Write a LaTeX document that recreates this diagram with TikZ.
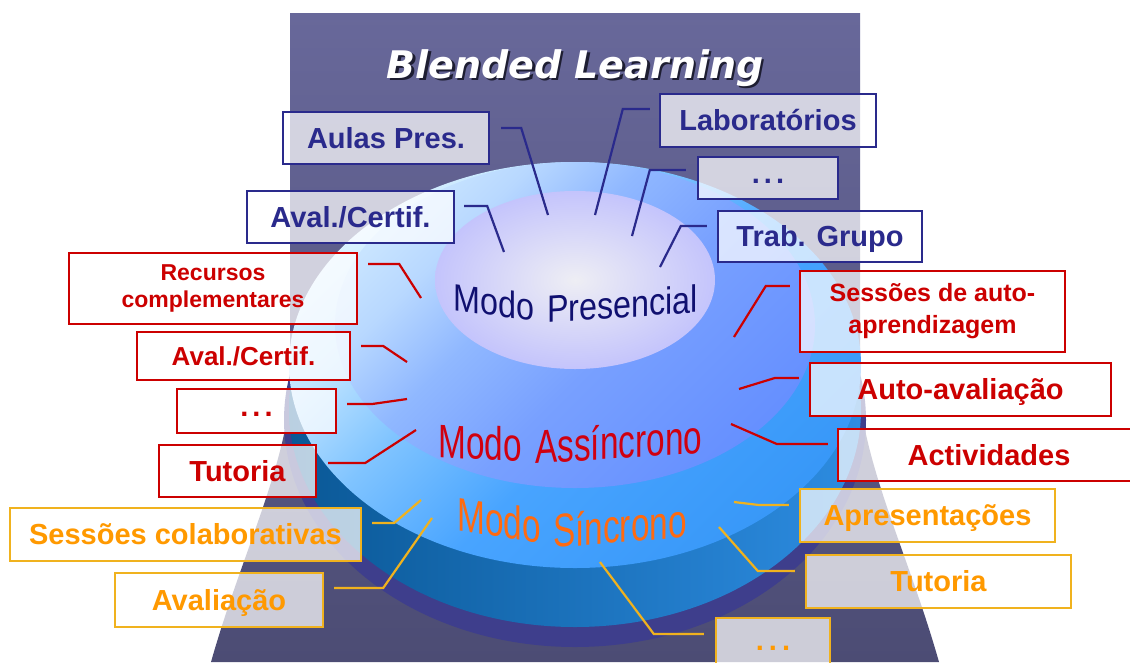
\documentclass[tikz,border=0pt]{standalone}
\usepackage{graphicx}
\usepackage{fontspec}
\setmainfont{Liberation Sans}
\newfontfamily\titlefont{DejaVu Sans}
\usetikzlibrary{calc}
\newcommand\hsq[2]{\scalebox{#1}[1]{#2}}
\definecolor{navyc}{RGB}{42,42,140}
\definecolor{redc}{RGB}{204,0,0}
\definecolor{orline}{RGB}{240,178,30}
\definecolor{ortext}{RGB}{255,153,0}
\definecolor{bgtop}{RGB}{104,104,154}
\definecolor{bgbot}{RGB}{76,76,116}
\definecolor{rimc}{RGB}{62,62,140}
\definecolor{sideL}{RGB}{10,88,150}
\definecolor{sideR}{RGB}{45,140,225}
\definecolor{sinC}{RGB}{56,152,248}
\definecolor{sinB}{RGB}{72,164,255}
\definecolor{sinM}{RGB}{128,196,255}
\definecolor{sinA}{RGB}{192,228,255}
\definecolor{sinZ}{RGB}{216,240,255}
\definecolor{asC}{RGB}{102,144,255}
\definecolor{asB}{RGB}{120,160,255}
\definecolor{asM}{RGB}{144,184,255}
\definecolor{asA}{RGB}{184,216,255}
\definecolor{asZ}{RGB}{200,228,255}
\definecolor{prIn}{RGB}{238,238,244}
\definecolor{prOut}{RGB}{196,196,252}
\definecolor{presc}{RGB}{16,16,112}
\definecolor{assc}{RGB}{208,0,16}
\definecolor{sinc}{RGB}{255,106,16}
\definecolor{shadowc}{RGB}{30,30,50}
\pgfdeclareverticalshading{sinshade}{100bp}{color(0bp)=(sinC); color(25bp)=(sinC); color(45bp)=(sinB); color(58bp)=(sinM); color(68bp)=(sinA); color(75bp)=(sinZ); color(100bp)=(sinZ)}
\pgfdeclareverticalshading{asshade}{100bp}{color(0bp)=(asC); color(25bp)=(asC); color(45bp)=(asB); color(58bp)=(asM); color(68bp)=(asA); color(75bp)=(asZ); color(100bp)=(asZ)}
\begin{document}
\begin{tikzpicture}[x=1pt,y=-1pt,
  box/.style={draw, line width=2.4pt, fill=white, fill opacity=0.72, text opacity=1, inner sep=0pt, align=center},
  bluebox/.style={box, draw=navyc, text=navyc, font=\bfseries\fontsize{29}{33}\selectfont, text height=20.8pt, text depth=0pt},
  redbox/.style={box, draw=redc, text=redc, font=\bfseries\fontsize{29}{33}\selectfont, text height=20.8pt, text depth=0pt},
  redsmall/.style={box, draw=redc, text=redc},
  orbox/.style={box, draw=orline, text=ortext, font=\bfseries\fontsize{29}{33}\selectfont, text height=20.8pt, text depth=0pt},
  dotsbox/.style={text height=11pt, text depth=0pt},
  modeA/.style={anchor=base west, inner sep=0pt, text=presc, font=\fontsize{38}{40}\selectfont},
  modeB/.style={anchor=base west, inner sep=0pt, font=\fontsize{47}{50}\selectfont},
  bl/.style={navyc, line width=2.2pt},
  rl/.style={redc, line width=2.2pt},
  ol/.style={orline, line width=2.2pt}]
\useasboundingbox (0,0) rectangle (1130,662);
\clip (0,0) rectangle (1130,662);
\fill[white] (0,0) rectangle (1130,662);
% dark background
\shade[top color=bgtop, bottom color=bgbot]
  (290,13) -- (860,13) -- (860,400) .. controls (870,480) and (910,560) .. (939,662)
  -- (211,662) .. controls (240,560) and (280,480) .. (290,400) -- cycle;
% disk layers
\fill[rimc] (575,420) ellipse [x radius=291pt, y radius=227pt];
\shade[left color=sideL, right color=sideR] (575,410) ellipse [x radius=286pt, y radius=217pt];
\shade[shading=sinshade, shading angle=45] (575,365) ellipse [x radius=286pt, y radius=203pt];
\shade[shading=asshade, shading angle=45] (575,325) ellipse [x radius=240pt, y radius=163pt];
\shade[inner color=prIn, outer color=prOut] (575,280) ellipse [x radius=140pt, y radius=89pt];
% mode labels
\node[modeA, yslant=-0.14] (mp1) at (453,310) {\hsq{0.85}{Modo}};
\node[modeA, yslant=0.07] (mp2) at (547,323) {\hsq{0.85}{Presencial}};
\node[modeB, text=assc, yslant=-0.06] (ma1) at (438,457) {\hsq{0.71}{Modo}};
\node[modeB, text=assc, yslant=0.065] (ma2) at (535,464) {\hsq{0.71}{Assíncrono}};
\node[modeB, text=sinc, yslant=-0.16] (ms1) at (457,530) {\hsq{0.71}{Modo}};
\node[modeB, text=sinc, yslant=0.08] (ms2) at (553,548) {\hsq{0.71}{Síncrono}};
% title with drop shadow
\node[anchor=base, text=white, font=\titlefont\bfseries\itshape\fontsize{38}{40}\selectfont] (title) at (575,78)
  {\makebox[0pt][l]{\hspace{2.5pt}\raisebox{-2.5pt}{\color{shadowc}Blended Learning}}Blended Learning};
% blue boxes
\node[bluebox, minimum width=206pt, minimum height=52pt] (aulas) at (386,138) {Aulas Pres.};
\node[bluebox, minimum width=216pt, minimum height=53pt] (labo) at (768,120.5) {Laboratórios};
\node[bluebox, dotsbox, minimum width=140pt, minimum height=42pt] (bdots) at (768,178) {.\hspace{4pt}.\hspace{4pt}.};
\node[bluebox, minimum width=207pt, minimum height=52pt] (baval) at (350.5,217) {Aval./Certif.};
\node[bluebox, minimum width=204pt, minimum height=51pt] (trab) at (820,236.5) {Trab. Grupo};
% red boxes
\node[redsmall, font=\bfseries\fontsize{23}{27}\selectfont, minimum width=288pt, minimum height=71pt] (recursos) at (213,288.5) {Recursos\\complementares};
\node[redbox, font=\bfseries\fontsize{26}{30}\selectfont, text height=18.6pt, minimum width=213pt, minimum height=48pt] (raval) at (243.5,356) {Aval./Certif.};
\node[redbox, dotsbox, minimum width=159pt, minimum height=44pt] (rdots) at (256.5,411) {.\hspace{4pt}.\hspace{4pt}.};
\node[redbox, minimum width=157pt, minimum height=52pt] (rtut) at (237.5,471) {Tutoria};
\node[redsmall, font=\bfseries\fontsize{25}{32}\selectfont, minimum width=265pt, minimum height=81pt] (sessauto) at (932.5,311.5) {Sessões de auto-\\aprendizagem};
\node[redbox, minimum width=301pt, minimum height=53pt] (autoav) at (960.5,389.5) {Auto-avaliação};
\node[redbox, minimum width=302pt, minimum height=52pt] (activ) at (989,455) {Actividades};
% orange boxes
\node[orbox, minimum width=351pt, minimum height=53pt] (sesscol) at (185.5,534.5) {Sessões colaborativas};
\node[orbox, minimum width=208pt, minimum height=54pt] (aval) at (219,600) {Avaliação};
\node[orbox, minimum width=255pt, minimum height=53pt] (apres) at (927.5,515.5) {Apresentações};
\node[orbox, minimum width=265pt, minimum height=53pt] (otut) at (938.5,581.5) {Tutoria};
\node[orbox, dotsbox, minimum width=114pt, minimum height=54pt] (odots) at (773,645) {.\hspace{5pt}.\hspace{5pt}.};
% free ends of connectors
\coordinate (eAulas) at (548,215);
\coordinate (eLabo) at (595,215);
\coordinate (eBdots) at (632,236);
\coordinate (eBaval) at (504,252);
\coordinate (eTrab) at (660,267);
\coordinate (eRecursos) at (421,298);
\coordinate (eRaval) at (407,362);
\coordinate (eRdots) at (407,399);
\coordinate (eRtut) at (416,430);
\coordinate (eSessauto) at (734,337);
\coordinate (eAutoav) at (739,389);
\coordinate (eActiv) at (731,424);
\coordinate (eSesscol) at (421,500);
\coordinate (eAval) at (432,518);
\coordinate (eApres) at (734,502);
\coordinate (eOtut) at (719,527);
\coordinate (eOdots) at (600,562);
% connectors
\draw[bl] ($(aulas.east)+(11,-10)$) -- ++(20,0) -- (eAulas);
\draw[bl] ($(labo.west)+(-9,-11.5)$) -- ++(-27,0) -- (eLabo);
\draw[bl] ($(bdots.west)+(-11,-8)$) -- ++(-36,0) -- (eBdots);
\draw[bl] ($(baval.east)+(9,-11)$) -- ++(23,0) -- (eBaval);
\draw[bl] ($(trab.west)+(-10,-10.5)$) -- ++(-26,0) -- (eTrab);
\draw[rl] ($(recursos.east)+(10,-24.5)$) -- ++(31,0) -- (eRecursos);
\draw[rl] ($(raval.east)+(10,-10)$) -- ++(22,0) -- (eRaval);
\draw[rl] ($(rdots.east)+(10,-7)$) -- ++(25,0) -- (eRdots);
\draw[rl] ($(rtut.east)+(11,-8)$) -- ++(37,0) -- (eRtut);
\draw[rl] ($(sessauto.west)+(-9,-25.5)$) -- ++(-24,0) -- (eSessauto);
\draw[rl] ($(autoav.west)+(-10,-11.5)$) -- ++(-24,0) -- (eAutoav);
\draw[rl] ($(activ.west)+(-9,-11)$) -- ++(-51,0) -- (eActiv);
\draw[ol] ($(sesscol.east)+(10,-11.5)$) -- ++(22,0) -- (eSesscol);
\draw[ol] ($(aval.east)+(10,-12)$) -- ++(49,0) -- (eAval);
\draw[ol] ($(apres.west)+(-10,-10.5)$) -- ++(-30,0) -- (eApres);
\draw[ol] ($(otut.west)+(-10,-10.5)$) -- ++(-37,0) -- (eOtut);
\draw[ol] ($(odots.west)+(-11,-11)$) -- ++(-50,0) -- (eOdots);
\end{tikzpicture}
\end{document}
